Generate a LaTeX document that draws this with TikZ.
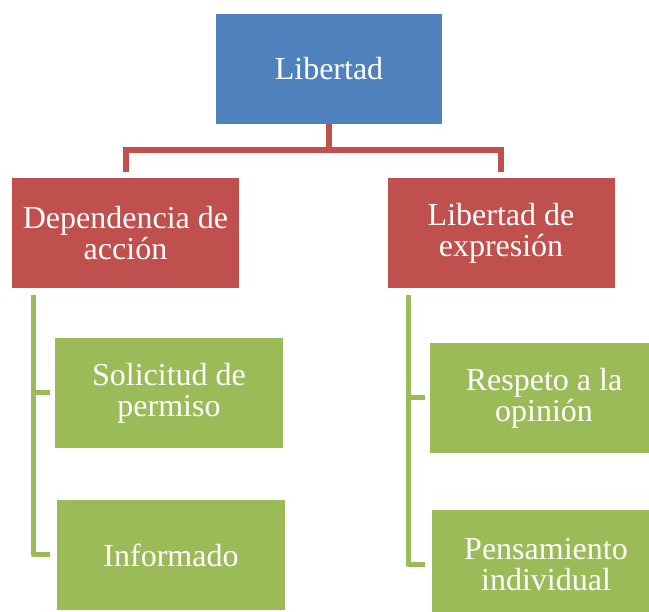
\documentclass[tikz,border=0pt]{standalone}
\usepackage{fontspec}
\setmainfont{LiberationSerif}[Extension=.ttf,UprightFont=*-Regular]
\definecolor{cblue}{HTML}{4F81BD}
\definecolor{cred}{HTML}{C0504D}
\definecolor{cgreen}{HTML}{9BBB59}
\begin{document}
\begin{tikzpicture}[x=1pt,y=-1pt,
  box/.style={minimum width=228pt,minimum height=110pt,inner sep=0pt,
    text=white,align=center,font=\rmfamily\fontsize{32}{31}\selectfont},
  bluebox/.style={box,fill=cblue,minimum width=226pt},
  redbox/.style={box,fill=cred,minimum width=227pt},
  greenbox/.style={box,fill=cgreen},
  redline/.style={draw=cred,line width=6pt},
  greenline/.style={draw=cgreen,line width=5pt,line join=round}]
\useasboundingbox (0,0) rectangle (649,612);
\clip (0,0) rectangle (649,612);
\fill[white] (0,0) rectangle (649,612);
\node[bluebox] (lib) at (329,69) {Libertad};
\node[redbox] (dep) at (125.5,233) {Dependencia de\\acción};
\node[redbox] (exp) at (501,233) {Libertad de\\expresión};
\node[greenbox] (sol) at (169,393) {Solicitud de\\permiso};
\node[greenbox] (inf) at (171,555) {Informado};
\node[greenbox] (res) at (544,398) {Respeto a la\\opinión};
\node[greenbox] (pen) at (546,565) {Pensamiento\\individual};
\coordinate (j) at (329,150);
\draw[redline] (lib.south) -- (j);
\draw[redline,shorten >=6pt] (j) -| (dep.north);
\draw[redline,shorten >=6pt] (j) -| (exp.north);
\coordinate (lt) at (33,295);
\coordinate (rt) at (408,295);
\draw[greenline,shorten >=5pt] (lt) |- (sol.west);
\draw[greenline,shorten >=7pt] (lt) |- (inf.west);
\draw[greenline,shorten >=5pt] (rt) |- (res.west);
\draw[greenline,shorten >=7pt] (rt) |- (pen.west);
\end{tikzpicture}
\end{document}
